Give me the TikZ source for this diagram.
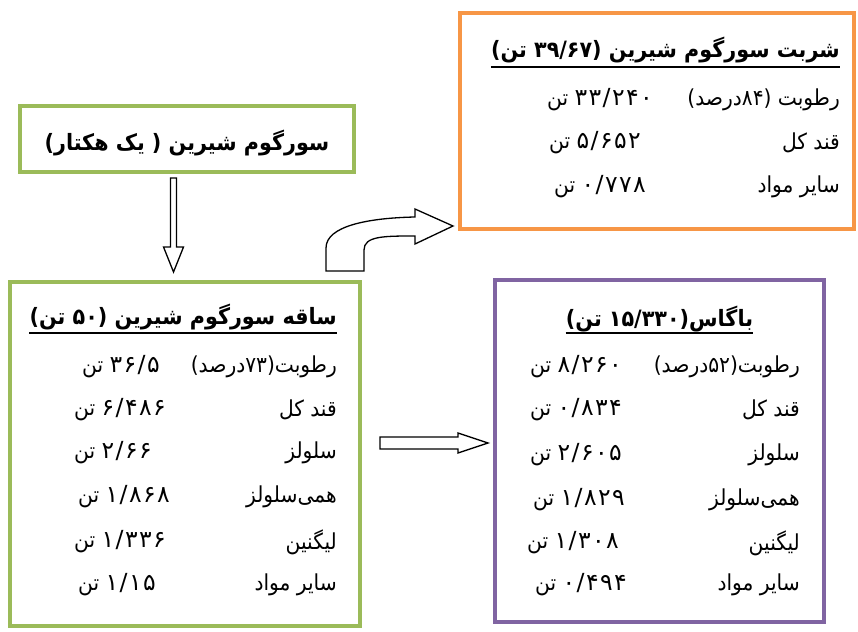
\documentclass[tikz,border=0pt]{standalone}
\usepackage{fontspec}
\newfontfamily\arabicfont[Script=Arabic, FakeStretch=0.92]{DejaVu Sans}
\newfontfamily\numfont[Script=Arabic, LetterSpace=6]{DejaVu Sans}
\newcommand\pw[1]{\mbox{#1}}
\newcommand\nm[1]{\mbox{\numfont\fontsize{23.5}{26}\selectfont #1}}
\definecolor{gbox}{HTML}{9BBB59}
\definecolor{obox}{HTML}{F79646}
\definecolor{pbox}{HTML}{8064A2}
\tikzset{
  panel/.style={draw, line width=4.5pt, rectangle, inner sep=0pt},
  rowtxt/.style={font=\arabicfont\fontsize{22}{26}\selectfont, inner sep=0pt},
  ttltxt/.style={font=\arabicfont\bfseries\fontsize{22.5}{26}\selectfont, inner sep=0pt},
  uline/.style={line width=1.6pt},
  blockarrow/.style={draw=black, line width=1.3pt, fill=white, line join=miter}
}
\begin{document}
\begin{tikzpicture}[x=1pt,y=-1pt]
\useasboundingbox[fill=white] (0,0) rectangle (858,631);
% panels
\node[panel, draw=obox, minimum width=394pt, minimum height=216pt] (sharbat) at (657,121) {};
\node[panel, draw=gbox, minimum width=334pt, minimum height=66pt] (sorgum) at (187,139) {};
\node[panel, draw=gbox, minimum width=350pt, minimum height=344pt] (saqe) at (185,454) {};
\node[panel, draw=pbox, minimum width=329pt, minimum height=342pt] (bagas) at (659.5,451) {};

% top box text
\node[ttltxt] (sorgumT) at (187,143) {\pw{)}\pw{هکتار} \pw{یک} \pw{(} \pw{شیرین} \pw{سورگوم}};

% sharbat box
\node[ttltxt, anchor=east] (shT) at (840,50) {\pw{)}\pw{تن} \pw{۳۹/۶۷}\pw{(} \pw{شیرین} \pw{سورگوم} \pw{شربت}};
\draw[uline] (shT.west |- 0,67) -- (shT.east |- 0,67);
\node[rowtxt, anchor=east] (shL1) at (840,100) {\pw{)}\pw{درصد}\pw{۸۴}\pw{(} \pw{رطوبت}};
\node[rowtxt, anchor=west] (shV1) at (547,100) {\pw{تن} \nm{۳۳/۲۴۰}};
\node[rowtxt, anchor=east] (shL2) at (840,143) {\pw{کل} \pw{قند}};
\node[rowtxt, anchor=west] (shV2) at (549,143) {\pw{تن} \nm{۵/۶۵۲}};
\node[rowtxt, anchor=east] (shL3) at (840,187) {\pw{مواد} \pw{سایر}};
\node[rowtxt, anchor=west] (shV3) at (554,187) {\pw{تن} \nm{۰/۷۷۸}};

% saqe box
\node[ttltxt, anchor=east] (sqT) at (337,317) {\pw{)}\pw{تن} \pw{۵۰}\pw{(} \pw{شیرین} \pw{سورگوم} \pw{ساقه}};
\draw[uline] (sqT.west |- 0,333) -- (sqT.east |- 0,333);
\node[rowtxt, anchor=east] (sqL1) at (337,367) {\pw{)}\pw{درصد}\pw{۷۳}\pw{(}\pw{رطوبت}};
\node[rowtxt, anchor=west] (sqV1) at (82,367) {\pw{تن} \nm{۳۶/۵}};
\node[rowtxt, anchor=east] (sqL2) at (337,410) {\pw{کل} \pw{قند}};
\node[rowtxt, anchor=west] (sqV2) at (74,410) {\pw{تن} \nm{۶/۴۸۶}};
\node[rowtxt, anchor=east] (sqL3) at (337,453) {\pw{سلولز}};
\node[rowtxt, anchor=west] (sqV3) at (74,453) {\pw{تن} \nm{۲/۶۶}};
\node[rowtxt, anchor=east] (sqL4) at (337,497) {\pw{همی‌سلولز}};
\node[rowtxt, anchor=west] (sqV4) at (78,497) {\pw{تن} \nm{۱/۸۶۸}};
\node[rowtxt, anchor=east] (sqL5) at (337,542) {\pw{لیگنین}};
\node[rowtxt, anchor=west] (sqV5) at (74,542) {\pw{تن} \nm{۱/۳۳۶}};
\node[rowtxt, anchor=east] (sqL6) at (337,585) {\pw{مواد} \pw{سایر}};
\node[rowtxt, anchor=west] (sqV6) at (78,585) {\pw{تن} \nm{۱/۱۵}};

% bagas box
\node[ttltxt] (bgT) at (659.5,319) {\pw{)}\pw{تن} \pw{۱۵/۳۳۰}\pw{(}\pw{باگاس}};
\draw[uline] (bgT.west |- 0,333) -- (bgT.east |- 0,333);
\node[rowtxt, anchor=east] (bgL1) at (800,367) {\pw{)}\pw{درصد}\pw{۵۲}\pw{(}\pw{رطوبت}};
\node[rowtxt, anchor=west] (bgV1) at (530,367) {\pw{تن} \nm{۸/۲۶۰}};
\node[rowtxt, anchor=east] (bgL2) at (800,410) {\pw{کل} \pw{قند}};
\node[rowtxt, anchor=west] (bgV2) at (530,410) {\pw{تن} \nm{۰/۸۳۴}};
\node[rowtxt, anchor=east] (bgL3) at (800,455) {\pw{سلولز}};
\node[rowtxt, anchor=west] (bgV3) at (530,455) {\pw{تن} \nm{۲/۶۰۵}};
\node[rowtxt, anchor=east] (bgL4) at (800,500) {\pw{همی‌سلولز}};
\node[rowtxt, anchor=west] (bgV4) at (533,500) {\pw{تن} \nm{۱/۸۲۹}};
\node[rowtxt, anchor=east] (bgL5) at (800,543) {\pw{لیگنین}};
\node[rowtxt, anchor=west] (bgV5) at (527,543) {\pw{تن} \nm{۱/۳۰۸}};
\node[rowtxt, anchor=east] (bgL6) at (800,585) {\pw{مواد} \pw{سایر}};
\node[rowtxt, anchor=west] (bgV6) at (535,585) {\pw{تن} \nm{۰/۴۹۴}};

% block arrows
\draw[blockarrow] (170.5,178) -- (176.5,178) -- (176.5,247) -- (183.5,247) -- (173.5,272)
  -- (163.5,247) -- (170.5,247) -- cycle;
\draw[blockarrow] (380,437) -- (458,437) -- (458,433) -- (488,443) -- (458,453)
  -- (458,449) -- (380,449) -- cycle;
\draw[blockarrow] (326,271) -- (326,248) .. controls (326,226) and (368,218) .. (415,217)
  -- (415,209) -- (453,226) -- (415,244) -- (415,236)
  .. controls (384,236) and (364,236) .. (364,250) -- (364,271) -- cycle;
\end{tikzpicture}
\end{document}
